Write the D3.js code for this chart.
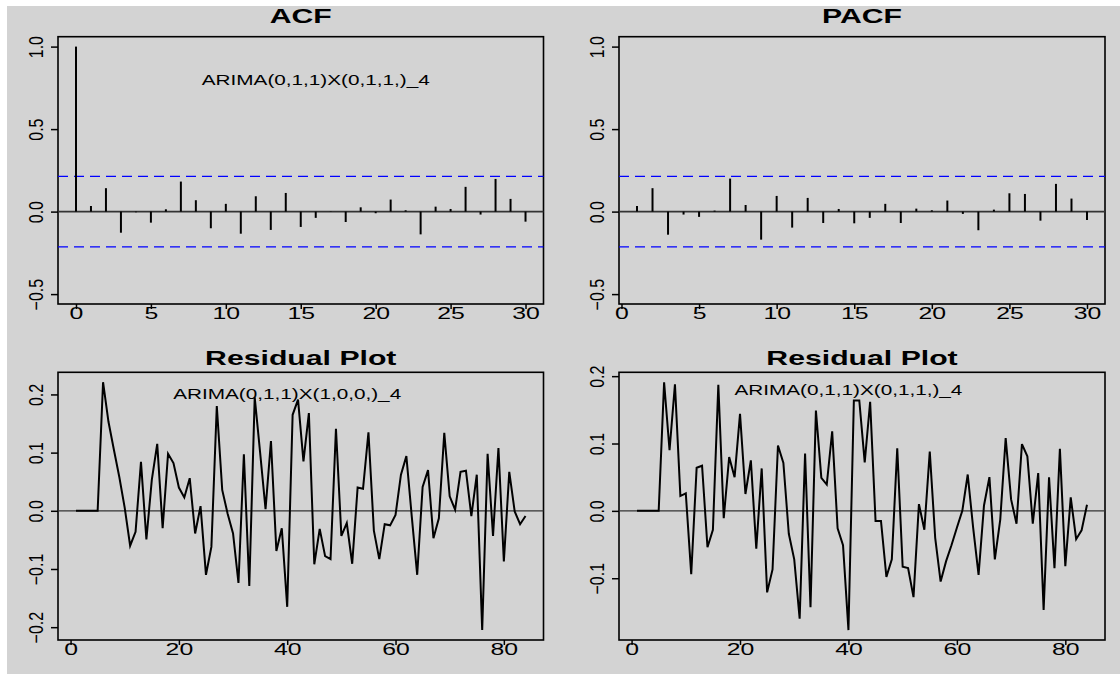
<!DOCTYPE html>
<html>
<head>
<meta charset="utf-8">
<script src="https://cdn.jsdelivr.net/npm/d3@7"></script>
<style>
  body { margin: 0; background: #ffffff; }
  svg { display: block; }
  text { font-family: "Liberation Sans", Arial, Helvetica, sans-serif; fill: #000; }
</style>
</head>
<body>
<svg id="chart" width="1120" height="674"></svg>
<script>
// ---- data -------------------------------------------------------------
const acfLags = d3.range(0, 31);
const acfValues = [1.000, 0.034, 0.142, -0.128, -0.004, -0.067, 0.014, 0.182, 0.069, -0.101,
                   0.047, -0.134, 0.093, -0.111, 0.113, -0.093, -0.038, -0.002, -0.063, 0.026,
                   -0.010, 0.073, 0.008, -0.138, 0.030, 0.016, 0.150, -0.018, 0.198, 0.077, -0.061];

const pacfLags = d3.range(1, 31);
const pacfValues = [0.034, 0.142, -0.140, -0.018, -0.032, 0.006, 0.200, 0.040, -0.170, 0.095,
                    -0.097, 0.083, -0.069, 0.016, -0.071, -0.038, 0.047, -0.069, 0.018, 0.008,
                    0.067, -0.014, -0.113, 0.012, 0.111, 0.107, -0.055, 0.168, 0.079, -0.051];

const residualIndex = d3.range(1, 85);
// residuals, seasonal AR(1) model
const residualsSAR = [0, 0, 0, 0, 0, 0.221, 0.153, 0.105, 0.058, 0.005,
                      -0.060, -0.036, 0.084, -0.049, 0.053, 0.115, -0.030, 0.098, 0.082, 0.040,
                      0.023, 0.056, -0.039, 0.008, -0.110, -0.062, 0.180, 0.036, -0.005, -0.039,
                      -0.124, 0.097, -0.129, 0.195, 0.100, 0.003, 0.120, -0.069, -0.030, -0.165,
                      0.165, 0.191, 0.085, 0.168, -0.092, -0.031, -0.078, -0.083, 0.141, -0.043,
                      -0.021, -0.091, 0.040, 0.038, 0.135, -0.034, -0.083, -0.023, -0.025, -0.007,
                      0.062, 0.094, -0.010, -0.110, 0.041, 0.070, -0.047, -0.013, 0.134, 0.025,
                      0.002, 0.067, 0.069, -0.009, 0.062, -0.205, 0.098, -0.043, 0.108, -0.087,
                      0.067, -0.001, -0.023, -0.009];
// residuals, seasonal MA(1) model
const residualsSMA = [0, 0, 0, 0, 0, 0.191, 0.090, 0.188, 0.022, 0.026,
                      -0.094, 0.064, 0.067, -0.054, -0.028, 0.187, -0.011, 0.080, 0.050, 0.144,
                      0.025, 0.075, -0.056, 0.063, -0.121, -0.087, 0.097, 0.071, -0.034, -0.072,
                      -0.160, 0.085, -0.143, 0.149, 0.049, 0.039, 0.118, -0.026, -0.051, -0.177,
                      0.164, 0.164, 0.072, 0.162, -0.015, -0.015, -0.098, -0.072, 0.093, -0.083,
                      -0.085, -0.128, 0.010, -0.028, 0.088, -0.040, -0.105, -0.075, -0.051, -0.025,
                      0.000, 0.054, -0.025, -0.095, 0.008, 0.050, -0.072, -0.013, 0.108, 0.017,
                      -0.019, 0.099, 0.081, -0.019, 0.056, -0.147, 0.050, -0.085, 0.092, -0.082,
                      0.020, -0.042, -0.029, 0.009];

const corrLimits = [-0.5, 1.0];
const confBound = 0.214;

const lagTicks = [0, 5, 10, 15, 20, 25, 30];
const corrTicks = [-0.5, 0.0, 0.5, 1.0];
const timeTicks = [0, 20, 40, 60, 80];
const residTicksSAR = [-0.2, -0.1, 0.0, 0.1, 0.2];
const residTicksSMA = [-0.1, 0.0, 0.1, 0.2];

const panelTitles = ["ACF", "PACF", "Residual Plot", "Residual Plot"];
const modelLabels = ["ARIMA(0,1,1)X(0,1,1,)_4", "ARIMA(0,1,1)X(1,0,0,)_4", "ARIMA(0,1,1)X(0,1,1,)_4"];

// ---- layout -----------------------------------------------------------
const svg = d3.select("#chart");
svg.append("rect").attr("x", 7).attr("y", 6).attr("width", 1113).attr("height", 668)
   .attr("fill", "#d3d3d3");

const boxes = [
  {x0: 58,  x1: 543.5, y0: 36.7,  y1: 304},
  {x0: 619, x1: 1105,  y0: 36.7,  y1: 304},
  {x0: 58,  x1: 543.5, y0: 372.3, y1: 640},
  {x0: 619, x1: 1105,  y0: 372.3, y1: 640}
];

const SX = 1.55;        // horizontal glyph stretch of the device
const fmt = d3.format(".1f");

function padded(ext, f = 0.04) {
  const d = (ext[1] - ext[0]) * f;
  return [ext[0] - d, ext[1] + d];
}

function frame(b, x, y, xTicks, yTicks, xFmt, yFmt, title, titleBase) {
  const g = svg.append("g");
  // x axis
  const ax = g.append("g").attr("transform", `translate(0,${b.y1})`)
    .call(d3.axisBottom(x).tickValues(xTicks).tickSize(5).tickFormat(xFmt));
  ax.select(".domain").remove();
  ax.selectAll(".tick line").attr("stroke", "#000").attr("stroke-width", 1.5);
  ax.selectAll(".tick text")
    .attr("y", 14.5).attr("dy", null)
    .attr("transform", `scale(${SX},1)`)
    .style("font-size", "16px");
  // y axis
  const ay = g.append("g").attr("transform", `translate(${b.x0},0)`)
    .call(d3.axisLeft(y).tickValues(yTicks).tickSize(7).tickFormat(yFmt));
  ay.select(".domain").remove();
  ay.selectAll(".tick line").attr("stroke", "#000").attr("stroke-width", 1.5);
  ay.selectAll(".tick text")
    .attr("x", null).attr("y", null).attr("dy", null)
    .attr("text-anchor", "middle")
    .attr("transform", "translate(-15,0) scale(1.25,1) rotate(-90)")
    .style("font-size", "16px");
  ax.attr("font-family", null).attr("font-size", null);
  ay.attr("font-family", null).attr("font-size", null);
  // box
  g.append("rect").attr("x", b.x0).attr("y", b.y0)
    .attr("width", b.x1 - b.x0).attr("height", b.y1 - b.y0)
    .attr("fill", "none").attr("stroke", "#000").attr("stroke-width", 1.6);
  // title
  g.append("text")
    .attr("transform", `translate(${(b.x0 + b.x1) / 2},${titleBase}) scale(${SX},1)`)
    .attr("text-anchor", "middle")
    .style("font-size", "19.5px").style("font-weight", "bold")
    .text(title);
  return g;
}

function label(g, x, y, txt) {
  g.append("text")
    .attr("transform", `translate(${x},${y}) scale(1.48,1)`)
    .attr("text-anchor", "middle").attr("dy", "0.36em")
    .style("font-size", "14px")
    .text(txt);
}

// ---- correlogram panels -----------------------------------------------
function correlogram(b, lags, vals, title, note) {
  const x = d3.scaleLinear().domain(padded([0, 30])).range([b.x0, b.x1]);
  if (lags[0] === 1) x.domain(padded([1, 30]));
  const y = d3.scaleLinear().domain(padded(corrLimits)).range([b.y1, b.y0]);
  const g = frame(b, x, y, lagTicks, corrTicks, d3.format("d"), fmt, title, 22.7);

  g.append("line").attr("x1", b.x0).attr("x2", b.x1)
    .attr("y1", y(0)).attr("y2", y(0))
    .attr("stroke", "#333").attr("stroke-width", 1.6);
  [confBound, -confBound].forEach(c => {
    g.append("line").attr("x1", b.x0).attr("x2", b.x1)
      .attr("y1", y(c)).attr("y2", y(c))
      .attr("stroke", "#0000ff").attr("stroke-width", 1.3)
      .attr("stroke-dasharray", "10,6");
  });
  g.selectAll("line.spike").data(lags).enter().append("line")
    .attr("class", "spike")
    .attr("x1", d => x(d)).attr("x2", d => x(d))
    .attr("y1", y(0)).attr("y2", (d, i) => y(vals[i]))
    .attr("stroke", "#000").attr("stroke-width", 2);
  if (note) label(g, x(16), y(0.8), note);
}

// ---- residual panels --------------------------------------------------
function residualPanel(b, vals, yTicks, note, noteY) {
  const x = d3.scaleLinear().domain(padded([1, 84])).range([b.x0, b.x1]);
  const y = d3.scaleLinear().domain(padded(d3.extent(vals))).range([b.y1, b.y0]);
  const g = frame(b, x, y, timeTicks, yTicks, d3.format("d"), fmt, "Residual Plot", 365);

  g.append("line").attr("x1", b.x0).attr("x2", b.x1)
    .attr("y1", y(0)).attr("y2", y(0))
    .attr("stroke", "#333").attr("stroke-width", 1.3);
  const line = d3.line().x((d, i) => x(residualIndex[i])).y(d => y(d));
  g.append("path").datum(vals).attr("d", line)
    .attr("fill", "none").attr("stroke", "#000").attr("stroke-width", 2)
    .attr("stroke-linejoin", "miter");
  label(g, x(40), y(noteY), note);
}

correlogram(boxes[0], acfLags, acfValues, panelTitles[0], modelLabels[0]);
correlogram(boxes[1], pacfLags, pacfValues, panelTitles[1], null);
residualPanel(boxes[2], residualsSAR, residTicksSAR, modelLabels[1], 0.2);
residualPanel(boxes[3], residualsSMA, residTicksSMA, modelLabels[2], 0.18);
</script>
</body>
</html>
